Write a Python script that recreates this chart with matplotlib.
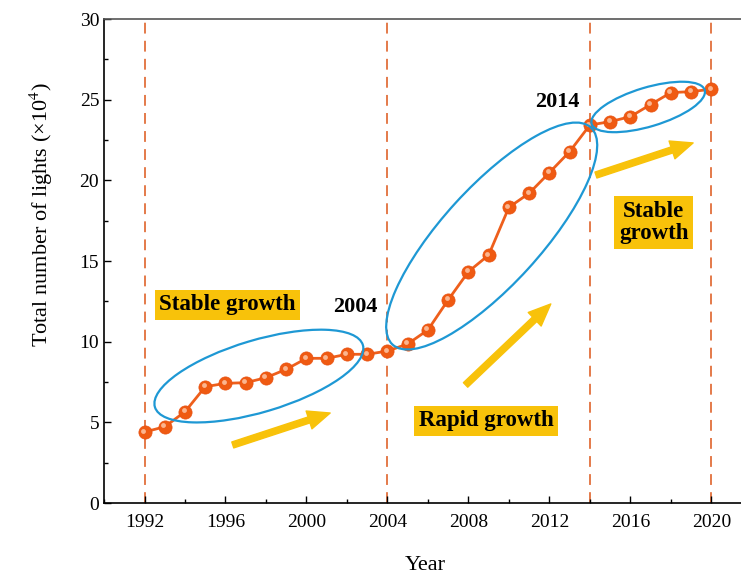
import matplotlib.pyplot as plt
import matplotlib.transforms as mtransforms
from matplotlib.patches import Ellipse
from matplotlib.ticker import MultipleLocator
import numpy as np

plt.rcParams["font.family"] = ["Liberation Serif", "DejaVu Serif"]
plt.rcParams["mathtext.fontset"] = "stix"

years = np.arange(1992, 2021)
lights = [4.4, 4.73, 5.66, 7.21, 7.42, 7.46, 7.77, 8.29, 8.97, 8.97,
          9.22, 9.22, 9.42, 9.86, 10.73, 12.59, 14.34, 15.37, 18.33, 19.2,
          20.48, 21.78, 23.43, 23.64, 23.95, 24.7, 25.44, 25.5, 25.65]

split_years = [1992, 2004, 2014, 2020]

# (text, x, y) for the stage labels
stage_labels = [("Stable growth", 1996.1, 12.3),
                ("Rapid growth", 2008.87, 5.11),
                ("Stable\ngrowth", 2017.15, 17.39)]
year_labels = [("2004", 2002.43, 12.17), ("2014", 2012.4, 24.86)]

# arrows: (tail_x, tail_y, tip_x, tip_y)
arrows = [(1996.36, 3.6, 2001.17, 5.58),
          (2007.86, 7.32, 2012.07, 12.34),
          (2014.3, 20.33, 2019.1, 22.32)]

# ellipses: centre in data units, size in inches, angle in degrees
ellipses = [(1997.65, 7.87, 2.17, 0.72, 16.6),
            (2009.15, 16.55, 2.94, 0.98, 47.6),
            (2016.88, 24.55, 1.18, 0.39, 16.7)]

orange = "#EE5F1C"
gold = "#F8C20A"
blue = "#1E98D4"

fig = plt.figure(figsize=(7.41, 5.77), dpi=100)
ax = fig.add_axes([0.1404, 0.1282, 0.866, 0.8388])

for yr in split_years:
    ax.axvline(yr, color="#E2703C", lw=1.3, dashes=(6, 4), zorder=1)

ax.plot(years, lights, color=orange, lw=2, marker="o", ms=9.5,
        mfc="#EF5A12", mec="#E85010", mew=0.5, zorder=3)
# small highlight on each ball
hl = mtransforms.offset_copy(ax.transData, fig=fig, x=-1.5, y=1.5, units="dots")
ax.plot(years, lights, ls="none", marker="o", ms=3.5, mfc="#FBB58F",
        mec="none", transform=hl, zorder=4)

for cx, cy, w, h, ang in ellipses:
    tr = fig.dpi_scale_trans + mtransforms.ScaledTranslation(cx, cy, ax.transData)
    ax.add_patch(Ellipse((0, 0), w, h, angle=ang, transform=tr, fill=False,
                         ec=blue, lw=1.6, zorder=5))

for x0, y0, x1, y1 in arrows:
    ax.annotate("", xy=(x1, y1), xytext=(x0, y0),
                arrowprops=dict(arrowstyle="simple,head_length=1.6,head_width=1.35,tail_width=0.45",
                                mutation_scale=10, color=gold, shrinkA=0, shrinkB=0),
                zorder=2)

for txt, x, y in stage_labels:
    ax.text(x, y, txt, ha="center", va="center", fontsize=16.5, fontweight="bold",
            linespacing=1.1,
            bbox=dict(boxstyle="square,pad=0.2", fc=gold, ec="none"), zorder=6)

for txt, x, y in year_labels:
    ax.text(x, y, txt, ha="center", va="center", fontsize=16, fontweight="bold", zorder=6)

ax.set_xlim(1990, 2021.7)
ax.set_ylim(0, 30)
ax.xaxis.set_major_locator(MultipleLocator(4))
ax.xaxis.set_minor_locator(MultipleLocator(2))
ax.yaxis.set_major_locator(MultipleLocator(5))
ax.yaxis.set_minor_locator(MultipleLocator(2.5))
ax.set_xticks(np.arange(1992, 2021, 4))
ax.tick_params(which="both", direction="in", labelsize=14, top=False, right=False)
ax.tick_params(which="major", length=5, width=1)
ax.tick_params(which="minor", length=3, width=1)
ax.tick_params(axis="x", pad=8)
for s in ax.spines.values():
    s.set_linewidth(1.2)
ax.spines["top"].set_color("#555555")
ax.set_xlabel("Year", fontsize=16, labelpad=18)
ax.set_ylabel(r"Total number of lights (×10$^{4}$)", fontsize=16)
ax.yaxis.set_label_coords(-0.077, 0.597)

fig.savefig("out.png", dpi=100)
